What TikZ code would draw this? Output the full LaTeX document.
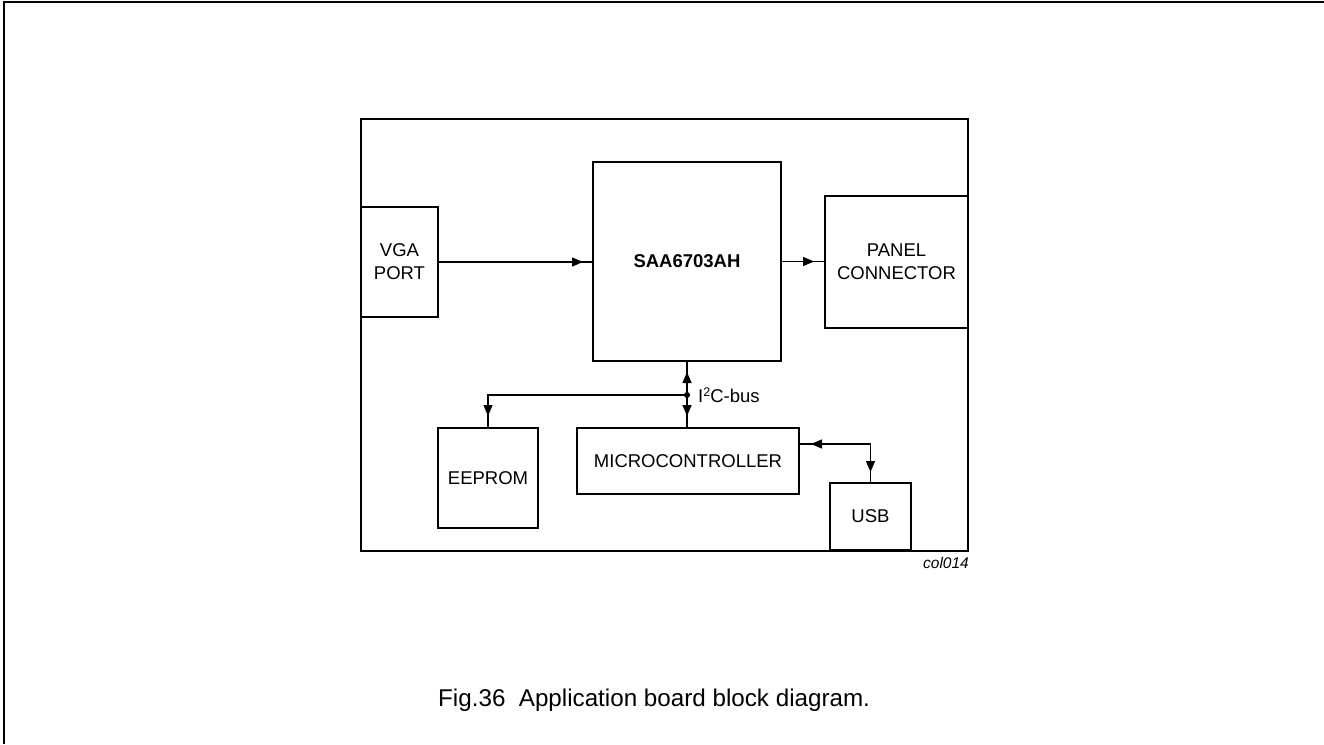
\documentclass[tikz,border=0pt]{standalone}
\usepackage{fontspec}
\setmainfont{Liberation Sans}
\usetikzlibrary{arrows.meta}
\tikzset{
  box/.style={draw, line width=2.3pt, inner sep=0pt, outer sep=0pt, align=center,
    font=\fontsize{18.5}{23}\selectfont},
  wire/.style={line width=1.3pt},
  arr/.style={wire, -{Triangle[length=11pt,width=9pt]}},
}
\begin{document}
\begin{tikzpicture}[x=1pt,y=-1pt]
\useasboundingbox (0,0) rectangle (1324,744);
% outer frame (top and left)
\draw[line width=2pt] (1324,2) -- (4,2) -- (4,744);
% board
\draw[line width=2.5pt] (361,119) rectangle (968,551);
% blocks
\node[box, minimum width=188pt, minimum height=199pt] (saa) at (687,261.5) {\bfseries SAA6703AH};
\node[box, minimum width=77pt, minimum height=110pt] (vga) at (399.5,262) {VGA\\PORT};
\node[box, minimum width=143pt, minimum height=132pt] (panel) at (896.5,262) {PANEL\\CONNECTOR};
\node[box, minimum width=100pt, minimum height=100pt] (eeprom) at (488,478) {EEPROM};
\node[box, minimum width=222pt, minimum height=66pt] (micro) at (688,461) {MICROCONTROLLER};
\node[box, minimum width=81pt, minimum height=67pt] (usb) at (870.5,516.5) {USB};
% VGA -> SAA
\draw[wire] (vga.east) -- (vga.east -| saa.west);
\draw[arr, shorten >=10pt] (vga.east) -- (vga.east -| saa.west);
% SAA -> PANEL
\draw[wire] (saa.east) -- (saa.east -| panel.west);
\draw[arr, shorten >=11pt] (saa.east) -- (saa.east -| panel.west);
% I2C bus
\coordinate (bus) at (687,395);
\draw[wire] (saa.south -| bus) -- (micro.north -| bus);
\draw[arr, shorten >=11pt] (bus) -- (saa.south -| bus);
\draw[arr, shorten >=12pt] (bus) -- (micro.north -| bus);
\draw[wire] (bus) -| (eeprom.north);
\draw[arr, shorten >=12pt] (bus) -| (eeprom.north);
\fill (bus) circle (3pt);
\node[anchor=base west, inner sep=0pt, font=\fontsize{18.5}{22}\selectfont] (i2c) at (698,402)
  {I\raisebox{0.55ex}{\fontsize{12.5}{12}\selectfont 2}C-bus};
% Micro <-> USB
\coordinate (mu) at (micro.east |- 0,444);
\coordinate (knee) at (usb.north |- mu);
\draw[wire] (mu) -- (knee) -- (usb.north);
\draw[arr, shorten >=12pt] (knee) -- (mu);
\draw[arr, shorten >=11pt] (knee) -- (usb.north);
% labels
\node[anchor=base east, inner sep=0pt, font=\fontsize{15.5}{18}\selectfont\itshape] (code) at (969,568) {col014};
\node[anchor=base west, inner sep=0pt, font=\fontsize{24.2}{28}\selectfont] (cap) at (438,706) {Fig.36\ \ Application board block diagram.};
\end{tikzpicture}
\end{document}
